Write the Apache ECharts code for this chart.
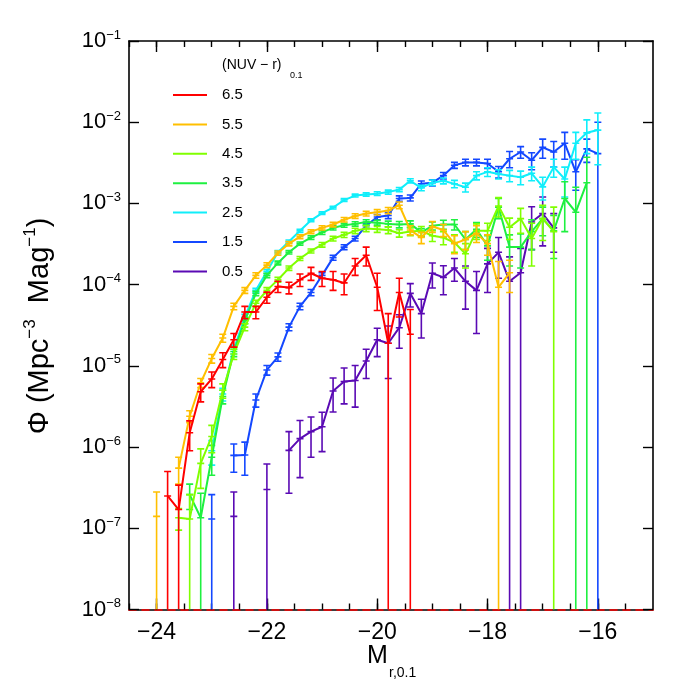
<!DOCTYPE html>
<html>
<head>
<meta charset="utf-8">
<script src="https://cdn.jsdelivr.net/npm/echarts@6/dist/echarts.min.js"></script>
<style>
  html, body { margin: 0; padding: 0; background: #fff; }
  #chart { width: 692px; height: 692px; }
</style>
</head>
<body>
<div id="chart"></div>
<script>
// magnitude bins M_r,0.1 (0.2 mag)
const mags = [-24.0, -23.8, -23.6, -23.4, -23.2, -23.0, -22.8, -22.6, -22.4, -22.2,
  -22.0, -21.8, -21.6, -21.4, -21.2, -21.0, -20.8, -20.6, -20.4, -20.2,
  -20.0, -19.8, -19.6, -19.4, -19.2, -19.0, -18.8, -18.6, -18.4, -18.2,
  -18.0, -17.8, -17.6, -17.4, -17.2, -17.0, -16.8, -16.6, -16.4, -16.2, -16.0];

const _ = null;
// (NUV - r) = 6.5
const phi65 = [_, 2.5e-7, 1.7e-7, 1.5e-6, 4.8e-6, 6.9e-6, 1.2e-5, 2.1e-5, 4.6e-5, 4.6e-5,
  7.0e-5, 9.5e-5, 9.2e-5, 1.15e-4, 1.38e-4, 1.2e-4, 1.15e-4, 1.05e-4, 1.7e-4, 2.3e-4,
  9.3e-5, 1.9e-5, 8.0e-5, 2.45e-5, _, _, _, _, _, _,
  _, _, _, _, _, _, _, _, _, _, _];
const err65 = [_, 2.5e-7, 1.7e-7, 6e-7, 1.2e-6, 1.5e-6, 2.5e-6, 4e-6, 8e-6, 8e-6,
  1.1e-5, 1.5e-5, 1.5e-5, 2e-5, 2.5e-5, 2.5e-5, 3e-5, 3e-5, 4e-5, 6e-5,
  4.5e-5, 2.5e-5, 4e-5, 2.5e-5, _, _, _, _, _, _,
  _, _, _, _, _, _, _, _, _, _, _];
// 5.5
const phi55 = [1.4e-7, _, 5.5e-7, 2.4e-6, 6.2e-6, 1.23e-5, 2.2e-5, 5.4e-5, 8.5e-5, 1.3e-4,
  1.74e-4, 2.45e-4, 3.2e-4, 3.9e-4, 4.5e-4, 5.0e-4, 5.5e-4, 6.3e-4, 7.0e-4, 7.5e-4,
  7.8e-4, 8.2e-4, 9.5e-4, 4.7e-4, 3.8e-4, 5.2e-4, 4.7e-4, 3.2e-4, 3.6e-4, 4.3e-4,
  3.2e-4, 9.3e-5, 1.4e-4, _, _, _, _, _, _, _, _];
const err55 = [1.4e-7, _, 2e-7, 4e-7, 8e-7, 1.5e-6, 2.5e-6, 5e-6, 7e-6, 1e-5,
  1.2e-5, 1.5e-5, 2e-5, 2.2e-5, 2.5e-5, 3e-5, 3.5e-5, 4e-5, 4.5e-5, 5e-5,
  6e-5, 7e-5, 9e-5, 6e-5, 6e-5, 8e-5, 8e-5, 8e-5, 9e-5, 1e-4,
  9e-5, 1e-4, 6e-5, _, _, _, _, _, _, _, _];
// 4.5
const phi45 = [_, _, 1.35e-7, 1.3e-7, 6.3e-7, 1.35e-6, 5.0e-6, 1.4e-5, 3.0e-5, 5.9e-5,
  8.5e-5, 1.15e-4, 1.6e-4, 2.1e-4, 2.6e-4, 3.1e-4, 3.7e-4, 4.1e-4, 4.6e-4, 4.9e-4,
  4.8e-4, 4.7e-4, 4.3e-4, 4.5e-4, 4.6e-4, 4.0e-4, 3.8e-4, 3.3e-4, 2.4e-4, 4.6e-4,
  4.6e-4, 9.3e-4, 5.1e-4, 6.5e-4, 3.7e-4, 6.5e-4, 4.5e-4, _, _, _, _];
const err45 = [_, _, 4e-8, 1.3e-7, 3.2e-7, 5e-7, 1e-6, 2e-6, 3e-6, 5e-6,
  7e-6, 8e-6, 1e-5, 1.2e-5, 1.5e-5, 2e-5, 2.5e-5, 3e-5, 3.5e-5, 4e-5,
  4e-5, 4.5e-5, 4.5e-5, 5e-5, 6e-5, 6e-5, 7e-5, 8e-5, 8e-5, 1e-4,
  1.1e-4, 2.5e-4, 1.5e-4, 2.2e-4, 2e-4, 3e-4, 4.5e-4, _, _, _, _];
// 3.5
const phi35 = [_, _, _, 2.6e-7, 1.35e-7, 7.5e-7, 4.2e-6, 1.5e-5, 3.6e-5, 7.8e-5,
  1.3e-4, 1.85e-4, 2.5e-4, 3.2e-4, 3.8e-4, 4.4e-4, 5.0e-4, 5.4e-4, 5.6e-4, 5.9e-4,
  5.8e-4, 5.6e-4, 5.5e-4, 5.6e-4, 4.4e-4, 5.3e-4, 5.5e-4, 5.5e-4, 3.6e-4, 4.8e-4,
  3.0e-4, 9.0e-4, 2.9e-4, 2.9e-4, 4.5e-4, 6.5e-4, 4.6e-4, 1.15e-3, 7.8e-4, 1.8e-3, _];
const err35 = [_, _, _, 9e-8, 1.35e-7, 3e-7, 8e-7, 2e-6, 3e-6, 5e-6,
  8e-6, 1e-5, 1.2e-5, 1.5e-5, 2e-5, 2.5e-5, 3e-5, 3e-5, 3.5e-5, 4e-5,
  4e-5, 4.5e-5, 5e-5, 5e-5, 5e-5, 6e-5, 7e-5, 8e-5, 9e-5, 1e-4,
  1e-4, 2.5e-4, 1.2e-4, 1.3e-4, 1.8e-4, 2.5e-4, 2.5e-4, 7e-4, 8e-4, 1.9e-3, _];
// 2.5
const phi25 = [_, _, _, _, _, 9e-7, 4.5e-6, 1.6e-5, 4.0e-5, 8.5e-5,
  1.45e-4, 2.5e-4, 3.4e-4, 4.6e-4, 6.2e-4, 7.6e-4, 8.9e-4, 1.1e-3, 1.25e-3, 1.29e-3,
  1.32e-3, 1.38e-3, 1.48e-3, 1.9e-3, 1.55e-3, 1.8e-3, 1.9e-3, 1.74e-3, 1.58e-3, 2.2e-3,
  2.45e-3, 2.3e-3, 2.2e-3, 2.1e-3, 2.35e-3, 1.6e-3, 2.8e-3, 2.0e-3, 5.5e-3, 7.4e-3, 8.0e-3];
const err25 = [_, _, _, _, _, 3e-7, 8e-7, 2e-6, 3e-6, 5e-6,
  8e-6, 1.2e-5, 1.5e-5, 2e-5, 2.5e-5, 3e-5, 3.5e-5, 4.5e-5, 5e-5, 6e-5,
  7e-5, 8e-5, 9e-5, 1.1e-4, 1.2e-4, 1.4e-4, 1.6e-4, 1.8e-4, 2e-4, 2.5e-4,
  3e-4, 3e-4, 3.5e-4, 4e-4, 4.5e-4, 5e-4, 7e-4, 8e-4, 2e-3, 3.3e-3, 5e-3];
// 1.5
const phi15 = [_, _, _, _, _, 1.3e-7, _, 7.9e-7, 8.0e-7, 3.8e-6,
  8.9e-6, 1.29e-5, 3.0e-5, 5.4e-5, 8.0e-5, 1.3e-4, 2.15e-4, 2.9e-4, 3.7e-4, 5.3e-4,
  6.8e-4, 7.1e-4, 1.15e-3, 1.17e-3, 1.75e-3, 1.8e-3, 2.2e-3, 2.95e-3, 3.2e-3, 3.2e-3,
  3.1e-3, 2.45e-3, 3.55e-3, 4.3e-3, 3.4e-3, 4.9e-3, 4.3e-3, 5.5e-3, 2.45e-3, 4.7e-3, 4.1e-3];
const err15 = [_, _, _, _, _, 1.3e-7, _, 3e-7, 3.5e-7, 7e-7,
  1.2e-6, 1.5e-6, 3e-6, 5e-6, 7e-6, 1e-5, 1.5e-5, 2e-5, 2.5e-5, 3.5e-5,
  5e-5, 6e-5, 9e-5, 1e-4, 1.4e-4, 1.6e-4, 2e-4, 2.5e-4, 3e-4, 3e-4,
  4e-4, 4e-4, 8e-4, 7e-4, 8e-4, 1.3e-3, 1.5e-3, 2e-3, 1e-3, 1.5e-3, 5.9e-3];
// 0.5
const phi05 = [_, _, _, _, _, _, _, 1.4e-7, _, _,
  3.0e-7, _, 9.1e-7, 1.27e-6, 1.55e-6, 1.78e-6, 4.9e-6, 6.4e-6, 6.6e-6, 1.15e-5,
  2.1e-5, 1.9e-5, 2.95e-5, 7.8e-5, 4.4e-5, 1.38e-4, 1.23e-4, 1.6e-4, 1.1e-4, 8.5e-5,
  1.8e-4, 2.5e-4, 1.1e-4, 1.4e-4, 5.9e-4, 7.5e-4, 5.0e-4, _, _, _, _];
const err05 = [_, _, _, _, _, _, _, 1.4e-7, _, _,
  3.2e-7, _, 6.4e-7, 8.5e-7, 8e-7, 9e-7, 2.2e-6, 3e-6, 3.5e-6, 4.5e-6,
  8e-6, 1.2e-5, 1.3e-5, 2.5e-5, 2.2e-5, 4.7e-5, 4.8e-5, 5e-5, 6e-5, 6e-5,
  1e-4, 1.3e-4, 1.1e-4, 1.4e-4, 3.2e-4, 4.5e-4, 2.5e-4, _, _, _, _];

const colourBins = ['6.5', '5.5', '4.5', '3.5', '2.5', '1.5', '0.5'];
const colours = ['#ff0000', '#ffbf00', '#80ff00', '#1ef040', '#10eefa', '#1448ff', '#5a0ab4'];
const phis = [phi65, phi55, phi45, phi35, phi25, phi15, phi05];
const errs = [err65, err55, err45, err35, err25, err15, err05];

const xMajorTicks = [-24, -22, -20, -18, -16];
const xMinorTicks = [-24.5, -24, -23.5, -23, -22.5, -22, -21.5, -21, -20.5, -20, -19.5,
  -19, -18.5, -18, -17.5, -17, -16.5, -16, -15.5];
const yTicks = [1e-8, 1e-7, 1e-6, 1e-5, 1e-4, 1e-3, 1e-2, 1e-1];

const FLOOR = 1e-8;
const FONT = 'Liberation Sans';

function errRender(colour) {
  return function (params, api) {
    const x = api.value(0), v = api.value(1), s = api.value(2);
    const hi = api.coord([x, v + s]);
    const lowVal = v - s;
    const lo = api.coord([x, lowVal > FLOOR ? lowVal : FLOOR]);
    const mid = api.coord([x, v]);
    const w = 3.5;
    const style = { stroke: colour, lineWidth: 1.6 };
    const kids = [
      { type: 'line', shape: { x1: hi[0], y1: hi[1], x2: lo[0], y2: lo[1] }, style },
      { type: 'line', shape: { x1: hi[0] - w, y1: hi[1], x2: hi[0] + w, y2: hi[1] }, style },
      { type: 'line', shape: { x1: mid[0] - w, y1: mid[1], x2: mid[0] + w, y2: mid[1] }, style }
    ];
    if (lowVal > FLOOR) {
      kids.push({ type: 'line', shape: { x1: lo[0] - w, y1: lo[1], x2: lo[0] + w, y2: lo[1] }, style });
    }
    return { type: 'group', children: kids };
  };
}

const series = [];
// draw bluest first so the red ends up on top
for (let k = colourBins.length - 1; k >= 0; k--) {
  const vals = phis[k], sig = errs[k];
  series.push({
    name: colourBins[k],
    type: 'line',
    data: mags.map((m, i) => [m, vals[i] == null ? '-' : vals[i]]),
    showSymbol: false,
    symbol: 'none',
    lineStyle: { color: colours[k], width: 2 },
    itemStyle: { color: colours[k] },
    z: 2 + (6 - k)
  });
  series.push({
    name: 'err' + colourBins[k],
    type: 'custom',
    renderItem: errRender(colours[k]),
    data: mags.map((m, i) => vals[i] == null ? null : [m, vals[i], sig[i]]).filter(d => d),
    encode: { x: 0, y: 1 },
    clip: true,
    z: 2 + (6 - k)
  });
}

const axisLine = { show: true, lineStyle: { color: '#000', width: 1.6 } };
function xAxisDef(pos, ticks, len, line, showLabel) {
  return {
    type: 'value', position: pos, min: -24.5, max: -15,
    axisLine: line,
    axisTick: { show: true, inside: true, length: len, customValues: ticks,
      lineStyle: { color: '#000', width: 1.4 } },
    axisLabel: showLabel ? {
      show: true, customValues: ticks, color: '#000', fontFamily: FONT, fontSize: 23, margin: 12,
      formatter: v => '\u2212' + Math.abs(v)
    } : { show: false },
    splitLine: { show: false }
  };
}
function yAxisDef(pos, showLabel) {
  return {
    type: 'log', logBase: 10, position: pos, min: 1e-8, max: 1e-1,
    axisLine: axisLine,
    axisTick: { show: true, inside: true, length: 10, customValues: yTicks,
      lineStyle: { color: '#000', width: 1.4 } },
    axisLabel: showLabel ? {
      show: true, customValues: yTicks, margin: 8, color: '#000', fontFamily: FONT,
      formatter: v => '{b|10}{s|\u2212' + Math.round(-Math.log10(v)) + '}',
      rich: {
        b: { fontSize: 22, lineHeight: 25, fontFamily: FONT, color: '#000' },
        s: { fontSize: 13, lineHeight: 14, verticalAlign: 'top', fontFamily: FONT, color: '#000' }
      }
    } : { show: false },
    splitLine: { show: false }
  };
}

// the zero-valued bins run along the floor of the plot as a red dashed trace
const floorTrace = { show: true, lineStyle: { color: '#ff0000', width: 1.6, type: [7, 6] } };

const chart = echarts.init(document.getElementById('chart'), null, { renderer: 'canvas' });
chart.setOption({
  animation: false,
  backgroundColor: '#fff',
  grid: { left: 129, top: 41, right: 39, bottom: 82.5, containLabel: false },
  xAxis: [
    xAxisDef('bottom', xMajorTicks, 11, axisLine, true),
    xAxisDef('bottom', xMinorTicks, 6, floorTrace, false),
    xAxisDef('top', xMajorTicks, 11, axisLine, false),
    xAxisDef('top', xMinorTicks, 6, { show: false }, false)
  ],
  yAxis: [yAxisDef('left', true), yAxisDef('right', false)],
  legend: {
    data: colourBins,
    orient: 'vertical',
    left: 168, top: 81,
    icon: 'rect',
    itemWidth: 34, itemHeight: 2, itemGap: 11.4,
    selectedMode: false,
    textStyle: { fontFamily: FONT, fontSize: 15, color: '#000', lineHeight: 18, padding: [0, 0, 0, 10] }
  },
  graphic: [
    { type: 'text', left: 222, top: 58,
      style: { text: '(NUV \u2212 r)', fontFamily: FONT, fontSize: 14, fill: '#000' } },
    { type: 'text', left: 290, top: 71,
      style: { text: '0.1', fontFamily: FONT, fontSize: 9, fill: '#000' } },
    { type: 'text', left: 367, top: 644,
      style: { text: 'M', fontFamily: FONT, fontSize: 25, fill: '#000' } },
    { type: 'text', left: 389, top: 666,
      style: { text: 'r,0.1', fontFamily: FONT, fontSize: 14, fill: '#000' } },
    { type: 'text', x: 40, y: 326, rotation: Math.PI / 2,
      style: {
        text: '{a|\u03A6 (Mpc}{s|\u22123}{a|  Mag}{s|\u22121}{a|)}',
        align: 'center', verticalAlign: 'middle',
        rich: {
          a: { fontSize: 29, lineHeight: 36, fontFamily: FONT, fill: '#000' },
          s: { fontSize: 17, lineHeight: 18, verticalAlign: 'top', fontFamily: FONT, fill: '#000' }
        }
      } }
  ],
  series: series
});
</script>
</body>
</html>
